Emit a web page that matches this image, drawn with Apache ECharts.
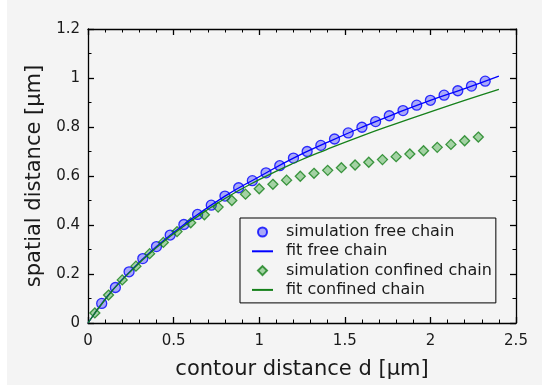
<!DOCTYPE html>
<html>
<head>
<meta charset="utf-8">
<script src="https://cdn.jsdelivr.net/npm/echarts@6/dist/echarts.min.js"></script>
<style>
  html, body { margin: 0; padding: 0; background: #ffffff; }
  #main { position: absolute; left: 7px; top: 0; width: 535px; height: 385px; background: #f4f4f4; }
</style>
</head>
<body>
<div id="main"></div>
<script>
// simulation points, free chain
const freeSimX = [0.08, 0.16, 0.24, 0.32, 0.40, 0.48, 0.56, 0.64, 0.72, 0.80, 0.88, 0.96, 1.04, 1.12, 1.20,
  1.28, 1.36, 1.44, 1.52, 1.60, 1.68, 1.76, 1.84, 1.92, 2.00, 2.08, 2.16, 2.24, 2.32];
const freeSimY = [0.080, 0.145, 0.209, 0.263, 0.312, 0.359, 0.402, 0.443, 0.481, 0.518, 0.552, 0.581, 0.613, 0.642, 0.673,
  0.700, 0.725, 0.751, 0.776, 0.799, 0.822, 0.846, 0.867, 0.889, 0.909, 0.930, 0.948, 0.967, 0.987];

// simulation points, confined chain
const confSimX = [0.04, 0.12, 0.20, 0.28, 0.36, 0.44, 0.52, 0.60, 0.68, 0.76, 0.84, 0.92, 1.00, 1.08, 1.16,
  1.24, 1.32, 1.40, 1.48, 1.56, 1.64, 1.72, 1.80, 1.88, 1.96, 2.04, 2.12, 2.20, 2.28];
const confSimY = [0.041, 0.114, 0.176, 0.232, 0.283, 0.329, 0.373, 0.409, 0.442, 0.473, 0.500, 0.526, 0.548, 0.566, 0.583,
  0.599, 0.611, 0.623, 0.634, 0.645, 0.656, 0.667, 0.679, 0.690, 0.703, 0.717, 0.729, 0.744, 0.759];

// fit curves
const fitX = [0, 0.1, 0.2, 0.4, 0.6, 0.8, 1.0, 1.2, 1.4, 1.6, 1.8, 2.0, 2.2, 2.4];
const freeFitY = [0, 0.097, 0.178, 0.312, 0.422, 0.518, 0.597, 0.673, 0.738, 0.799, 0.856, 0.909, 0.957, 1.008];
const confFitY = [0, 0.096, 0.176, 0.308, 0.415, 0.508, 0.585, 0.652, 0.710, 0.764, 0.814, 0.862, 0.909, 0.954];

const xTicks = { min: 0, max: 2.5, step: 0.5 };
const yTicks = { min: 0, max: 1.2, step: 0.2 };

const seriesNames = ['simulation free chain', 'fit free chain', 'simulation confined chain', 'fit confined chain'];

const zip = (xs, ys) => xs.map((x, i) => [x, ys[i]]);

const font = 'DejaVu Sans';
const ink = '#1a1a1a';
const frame = { color: '#000', width: 1.3 };

// legend marks: corner points keep the box at itemWidth x itemHeight so the diamond is not stretched
const diamondIcon = 'path://M0,0L0,0M21,10L21,10M10.5,0.5L15,5L10.5,9.5L6,5Z';
const circleIcon = 'path://M0,0L0,0M21,10L21,10M15,5A4.5,4.5,0,1,1,6,5A4.5,4.5,0,1,1,15,5Z';

const makeX = (pos, labels) => ({
  type: 'value',
  position: pos,
  min: xTicks.min,
  max: xTicks.max,
  interval: xTicks.step,
  axisLine: { show: true, onZero: false, lineStyle: frame },
  axisTick: { show: true, inside: true, length: 6, lineStyle: frame },
  minorTick: { show: true, splitNumber: 5, length: 3.5, lineStyle: { color: '#000', width: 1 } },
  splitLine: { show: false },
  axisLabel: { show: labels, margin: 11, fontSize: 15, fontFamily: font, color: ink },
});

const makeY = (pos, labels) => ({
  type: 'value',
  position: pos,
  min: yTicks.min,
  max: yTicks.max,
  interval: yTicks.step,
  axisLine: { show: true, onZero: false, lineStyle: frame },
  axisTick: { show: true, inside: true, length: 6, lineStyle: frame },
  minorTick: { show: true, splitNumber: 2, length: 3.5, lineStyle: { color: '#000', width: 1 } },
  splitLine: { show: false },
  axisLabel: { show: labels, margin: 8, fontSize: 15, fontFamily: font, color: ink },
});

const xBottom = makeX('bottom', true);
xBottom.name = 'contour distance d [\u00b5m]';
xBottom.nameLocation = 'middle';
xBottom.nameGap = 36;
xBottom.nameTextStyle = { fontSize: 21, fontFamily: font, color: ink };

const yLeft = makeY('left', true);
yLeft.name = 'spatial distance [\u00b5m]';
yLeft.nameLocation = 'middle';
yLeft.nameGap = 30;
yLeft.nameTextStyle = { fontSize: 21, fontFamily: font, color: ink };

const chart = echarts.init(document.getElementById('main'), null, { renderer: 'canvas' });

const option = {
  animation: false,
  backgroundColor: '#f4f4f4',
  grid: { left: 81, right: 26, top: 29, bottom: 61 },
  xAxis: [xBottom, makeX('top', false)],
  yAxis: [yLeft, makeY('right', false)],
  legend: {
    orient: 'vertical',
    left: 233,
    top: 218,
    padding: [6, 4, 5, 11],
    itemGap: 3.3,
    itemWidth: 21,
    itemHeight: 10,
    backgroundColor: '#f4f4f4',
    borderColor: '#000',
    borderWidth: 1,
    borderRadius: 0,
    textStyle: { fontSize: 16, lineHeight: 16, fontFamily: font, color: ink, padding: [0, 0, 0, 8] },
    data: [
      { name: seriesNames[0], icon: circleIcon },
      { name: seriesNames[1], itemStyle: { opacity: 0 } },
      { name: seriesNames[2], icon: diamondIcon },
      { name: seriesNames[3], itemStyle: { opacity: 0 } },
    ],
  },
  series: [
    {
      name: seriesNames[0],
      type: 'scatter',
      data: zip(freeSimX, freeSimY),
      symbol: 'circle',
      symbolSize: 10,
      itemStyle: { color: 'rgba(0,0,255,0.38)', borderColor: '#0000ff', borderWidth: 1.3 },
    },
    {
      name: seriesNames[1],
      type: 'line',
      data: zip(fitX, freeFitY),
      smooth: true,
      symbol: 'none',
      lineStyle: { color: '#0000ff', width: 1.3 },
      itemStyle: { color: '#0000ff' },
    },
    {
      name: seriesNames[2],
      type: 'scatter',
      data: zip(confSimX, confSimY),
      symbol: 'diamond',
      symbolSize: 10,
      itemStyle: { color: 'rgba(20,150,20,0.45)', borderColor: '#15801a', borderWidth: 1.3 },
    },
    {
      name: seriesNames[3],
      type: 'line',
      data: zip(fitX, confFitY),
      smooth: true,
      symbol: 'none',
      lineStyle: { color: '#15801a', width: 1.3 },
      itemStyle: { color: '#15801a' },
    },
  ],
};

chart.setOption(option);
</script>
</body>
</html>
